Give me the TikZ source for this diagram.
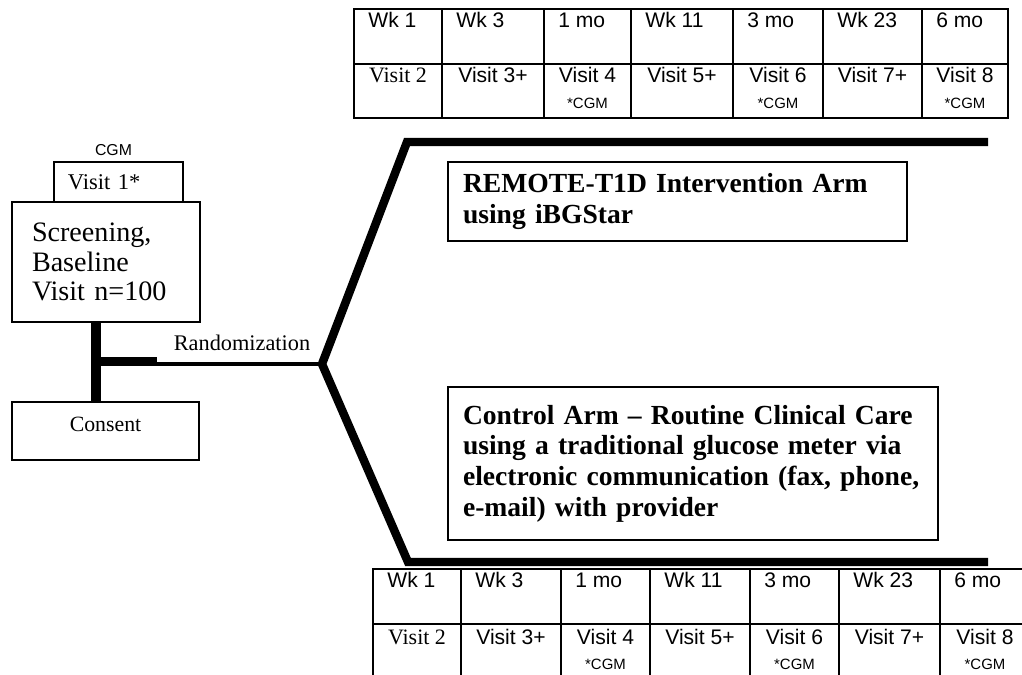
\documentclass[tikz,border=0pt]{standalone}
\usepackage{fontspec}
\setmainfont{Liberation Serif}
\setsansfont{Liberation Sans}
\usetikzlibrary{positioning}
\newcommand{\visittwo}{{\rmfamily\fontsize{12.5}{14}\selectfont Visit 2}}

\begin{document}
\begin{tikzpicture}[
  grid/.style={line width=0.9pt},
  week/.style={font=\sffamily\fontsize{12}{14}\selectfont, inner sep=0pt, anchor=base west},
  visit/.style={font=\sffamily\fontsize{12}{14}\selectfont, inner sep=0pt, anchor=base},
  cgm/.style={font=\sffamily\fontsize{8.5}{10}\selectfont, inner sep=0pt, anchor=base},
  box/.style={rectangle, draw, line width=0.9pt, align=left},
  armbox/.style={box, font=\bfseries\fontsize{15.7}{17.5}\selectfont, inner xsep=0.3cm},
  bar/.style={line width=5.3pt},
  arm/.style={line width=4.8pt},
  wire/.style={line width=2.8pt}
]

\useasboundingbox (0,0) rectangle (20.44,13.48);

% top schedule
\foreach \i/\xl/\xr/\wk/\vis in {1/7.08/8.84/Wk 1/\visittwo, 2/8.84/10.88/Wk 3/Visit 3+,
    3/10.88/12.62/1 mo/Visit 4, 4/12.62/14.66/Wk 11/Visit 5+, 5/14.66/16.46/3 mo/Visit 6,
    6/16.46/18.44/Wk 23/Visit 7+, 7/18.44/20.16/6 mo/Visit 8}
{
  \draw[grid] (\xl,11.12) rectangle (\xr,13.30);
  \draw[grid] (\xl,12.20) -- (\xr,12.20);
  \node[week] (topwk\i) at (\xl+0.28,12.92) {\wk};
  \node[visit] (topvis\i) at ({(\xl+\xr)/2},11.82) {\vis};
}
\foreach \i in {3,5,7}
  \node[cgm] (topcgm\i) at ([yshift=-0.52cm]topvis\i.base) {*CGM};

% bottom schedule
\foreach \i/\xl/\xr/\wk/\vis in {1/7.46/9.22/Wk 1/\visittwo, 2/9.22/11.22/Wk 3/Visit 3+,
    3/11.22/13.00/1 mo/Visit 4, 4/13.00/15.00/Wk 11/Visit 5+, 5/15.00/16.78/3 mo/Visit 6,
    6/16.78/18.80/Wk 23/Visit 7+, 7/18.80/20.60/6 mo/Visit 8}
{
  \draw[grid] (\xl,-0.12) rectangle (\xr,2.10);
  \draw[grid] (\xl,1.00) -- (\xr,1.00);
  \node[week] (botwk\i) at (\xl+0.28,1.72) {\wk};
  \node[visit] (botvis\i) at ({(\xl+\xr)/2},0.60) {\vis};
}
\foreach \i in {3,5,7}
  \node[cgm] (botcgm\i) at ([yshift=-0.50cm]botvis\i.base) {*CGM};

\node[box, font=\fontsize{12.8}{14}\selectfont, text width=2.02cm, inner xsep=0.28cm,
  minimum height=0.8cm] (visit1) at (2.37,9.84) {Visit 1*};
\node[cgm, font=\sffamily\fontsize{9}{10}\selectfont, above=0.1cm of visit1, xshift=-0.1cm] (cgmlabel) {CGM};
\node[box, font=\fontsize{16}{16.7}\selectfont, text width=2.96cm, inner xsep=0.4cm,
  minimum height=2.4cm] (screen) at (2.12,8.24) {Screening,\\Baseline\\Visit n=100};
\node[box, align=center, font=\fontsize{12.4}{14}\selectfont, minimum width=3.74cm,
  text height=0.47cm, text depth=0.43cm, inner ysep=0.13cm] (consent) at (2.11,4.86) {Consent};

\node[box, draw=none, inner sep=0pt, font=\fontsize{12.7}{14}\selectfont, anchor=base] (rand) at (4.84,6.46) {Randomization};

\node[armbox, text width=8.58cm, minimum height=1.58cm] (remote) at (13.55,9.45)
  {REMOTE-T1D Intervention Arm\\using iBGStar};
\node[armbox, text width=9.2cm, minimum height=3.06cm] (control) at (13.86,4.21)
  {Control Arm – Routine Clinical Care\\using a traditional glucose meter via\\electronic communication (fax, phone,\\e-mail) with provider};

\coordinate (split)     at (1.92,6.25);
\coordinate (stub)      at (3.14,6.25);
\coordinate (branch)    at (6.44,6.20);
\coordinate (upcorner)  at (8.14,10.64);
\coordinate (upend)     at (19.76,10.64);
\coordinate (lowcorner) at (8.16,2.24);
\coordinate (lowend)    at (19.76,2.24);

\draw[bar]  (screen.south -| split) -- (consent.north -| split);
\draw[bar]  (split) -- (stub);
\draw[wire] (split |- branch) -- (branch);
\draw[arm]  (upend) -- (upcorner) -- (branch) -- (lowcorner) -- (lowend);

\end{tikzpicture}
\end{document}
